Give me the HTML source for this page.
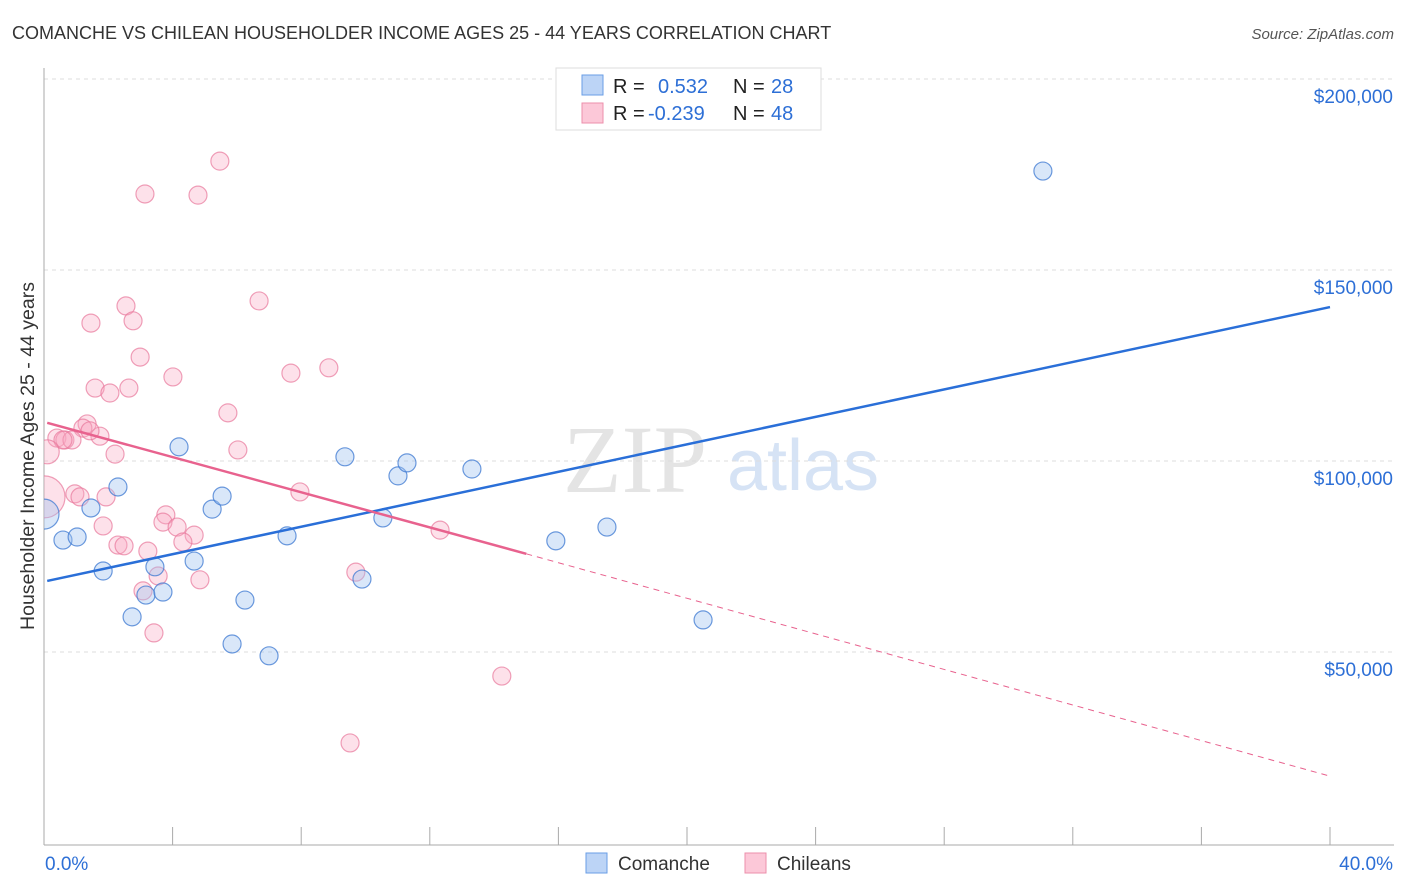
<!DOCTYPE html>
<html><head><meta charset="utf-8">
<style>
body{margin:0;background:#fff;font-family:"Liberation Sans",sans-serif;}
svg{display:block}
</style></head>
<body>
<svg id="chart" width="1406" height="892" viewBox="0 0 1406 892">
<defs><clipPath id="plotclip"><rect x="44" y="60" width="1360" height="785"/></clipPath></defs>
<text x="12" y="39" font-size="18" fill="#333">COMANCHE VS CHILEAN HOUSEHOLDER INCOME AGES 25 - 44 YEARS CORRELATION CHART</text>
<text x="1394" y="39" font-size="15" fill="#555" font-style="italic" text-anchor="end">Source: ZipAtlas.com</text>
<g>
<text x="635" y="492" font-size="96" fill="#e4e4e4" font-family="Liberation Serif,serif" text-anchor="middle">ZIP</text>
<text x="803" y="490" font-size="72" fill="#d6e3f5" text-anchor="middle">atlas</text>
</g>
<g id="grid"></g>
<g id="axes"></g>
<g id="marks" clip-path="url(#plotclip)"></g>
<text transform="translate(34,456) rotate(-90)" font-size="19.5" fill="#333" text-anchor="middle">Householder Income Ages 25 - 44 years</text>
<g>
<rect x="556" y="68" width="265" height="62" fill="#fff" stroke="#ddd"/>
<rect x="582" y="75" width="21" height="20" fill="#bcd4f6" stroke="#6a9ee6"/>
<rect x="582" y="103" width="21" height="20" fill="#fcc8d8" stroke="#ec8fab"/>
<text x="613" y="93" font-size="20" fill="#222">R =</text>
<text x="658" y="93" font-size="20" fill="#2d6fd6">0.532</text>
<text x="733" y="93" font-size="20" fill="#222">N =</text>
<text x="771" y="93" font-size="20" fill="#2d6fd6">28</text>
<text x="613" y="120" font-size="20" fill="#222">R =</text>
<text x="648" y="120" font-size="20" fill="#2d6fd6">-0.239</text>
<text x="733" y="120" font-size="20" fill="#222">N =</text>
<text x="771" y="120" font-size="20" fill="#2d6fd6">48</text>
</g>
<g>
<rect x="586" y="853" width="21" height="20" fill="#bcd4f6" stroke="#6a9ee6"/>
<text x="618" y="870" font-size="19" fill="#333">Comanche</text>
<rect x="745" y="853" width="21" height="20" fill="#fcc8d8" stroke="#ec8fab"/>
<text x="777" y="870" font-size="19" fill="#333">Chileans</text>
</g>
</svg>
<script>
const yTicks=[50000,100000,150000,200000];
const yTickLabels=["$50,000","$100,000","$150,000","$200,000"];
const xTickLabels=["0.0%","40.0%"];
const comancheX=[31.07,0,0.59,1.03,1.46,1.84,2.30,2.74,3.17,3.45,3.70,4.20,4.67,5.23,5.54,5.85,6.25,7.00,7.56,9.36,9.89,10.54,11.01,11.29,13.31,15.92,17.51,20.50];
const comancheY=[175.9,86.1,79.3,80.1,87.7,71.2,93.2,59.2,64.9,72.3,65.7,103.7,73.8,87.4,90.8,52.1,63.6,49.0,80.4,101.1,69.1,85.1,96.1,99.5,97.9,79.1,82.7,58.4];
const comancheR=[9,15,9,9,9,9,9,9,9,9,9,9,9,9,9,9,9,9,9,9,9,9,9,9,9,9,9,9];
const chileanX=[5.47,3.14,4.79,2.55,6.69,1.46,2.77,2.99,4.01,7.68,8.86,1.59,2.05,2.64,5.72,1.34,1.21,1.74,0.40,0.65,0.87,0.59,1.43,0.10,2.21,6.03,0,0.96,1.12,1.93,7.96,3.79,1.84,3.70,4.14,4.67,4.32,2.30,2.49,3.23,3.55,4.85,3.08,9.70,3.42,12.32,14.24,9.52];
const chileanY=[178.5,169.9,169.6,140.6,141.9,136.1,136.7,127.2,122.0,123.0,124.4,119.1,117.8,119.1,112.6,109.7,108.6,106.5,106.0,105.5,105.5,105.5,107.9,102.4,101.8,102.9,90.6,91.4,90.6,90.6,91.9,85.9,83.0,84.0,82.7,80.6,78.8,78.0,77.8,76.4,69.9,68.9,66.0,70.9,55.0,81.9,43.7,26.2];
const chileanR=[9,9,9,9,9,9,9,9,9,9,9,9,9,9,9,9,9,9,9,9,9,9,9,12,9,9,21,9,9,9,9,9,9,9,9,9,9,9,9,9,9,9,9,9,9,9,9,9];
const blueTrend=[[0.1,68.6],[40,140.3]];
const pinkTrend=[[0.1,110.0],[15,75.7]];
const pinkDash=[[15,75.7],[40,17.5]];

const NS="http://www.w3.org/2000/svg";
const X0=44,X1=1330,Y0=843,YPER=191/50000;
function xs(v){return X0+(v/40)*(X1-X0);}
function ys(k){return Y0-k*YPER;}
function mk(parent,tag,attrs){const e=document.createElementNS(NS,tag);for(const k in attrs)e.setAttribute(k,attrs[k]);document.getElementById(parent).appendChild(e);return e;}

yTicks.forEach((t,i)=>{
  const l=mk('grid','line',{x1:X0,x2:1394,y1:ys(t),y2:ys(t),stroke:'#ddd','stroke-dasharray':'4,4'});
  
  
  const tx=mk('grid','text',{x:1393,y:ys(t)+24,'font-size':19,fill:'#2d6fd6','text-anchor':'end'});
  tx.textContent=yTickLabels[i];
  
  
});
const ax=mk('axes','line',{x1:X0,x2:X0,y1:68,y2:845,stroke:'#aaa'});


const bx=mk('axes','line',{x1:X0,x2:1394,y1:845,y2:845,stroke:'#aaa'});


for(let i=1;i<=10;i++){
  const t=mk('axes','line',{x1:xs(i*4),x2:xs(i*4),y1:827,y2:845,stroke:'#aaa'});
  
  
}
const xl0=mk('axes','text',{x:45,y:870,'font-size':19,fill:'#2d6fd6'});
xl0.textContent=xTickLabels[0];


const xl1=mk('axes','text',{x:1393,y:870,'font-size':19,fill:'#2d6fd6','text-anchor':'end'});
xl1.textContent=xTickLabels[1];



chileanX.forEach((x,i)=>{
  const c=mk('marks','circle',{cx:xs(x),cy:ys(chileanY[i]*1000),r:chileanR[i],fill:'rgba(248,170,195,0.35)',stroke:'rgba(232,120,155,0.7)','stroke-width':1.2});
  
  
});
comancheX.forEach((x,i)=>{
  const c=mk('marks','circle',{cx:xs(x),cy:ys(comancheY[i]*1000),r:comancheR[i],fill:'rgba(160,195,240,0.4)',stroke:'rgba(60,120,210,0.75)','stroke-width':1.2});
  
  
});
const bl=mk('marks','line',{x1:xs(blueTrend[0][0]),y1:ys(blueTrend[0][1]*1000),x2:xs(blueTrend[1][0]),y2:ys(blueTrend[1][1]*1000),stroke:'#2a6fd8','stroke-width':2.5});


const pl=mk('marks','line',{x1:xs(pinkTrend[0][0]),y1:ys(pinkTrend[0][1]*1000),x2:xs(pinkTrend[1][0]),y2:ys(pinkTrend[1][1]*1000),stroke:'#e8628e','stroke-width':2.5});


const pd=mk('marks','line',{x1:xs(pinkDash[0][0]),y1:ys(pinkDash[0][1]*1000),x2:xs(pinkDash[1][0]),y2:ys(pinkDash[1][1]*1000),stroke:'#e8628e','stroke-width':1,'stroke-dasharray':'6,5'});


</script>
</body></html>
